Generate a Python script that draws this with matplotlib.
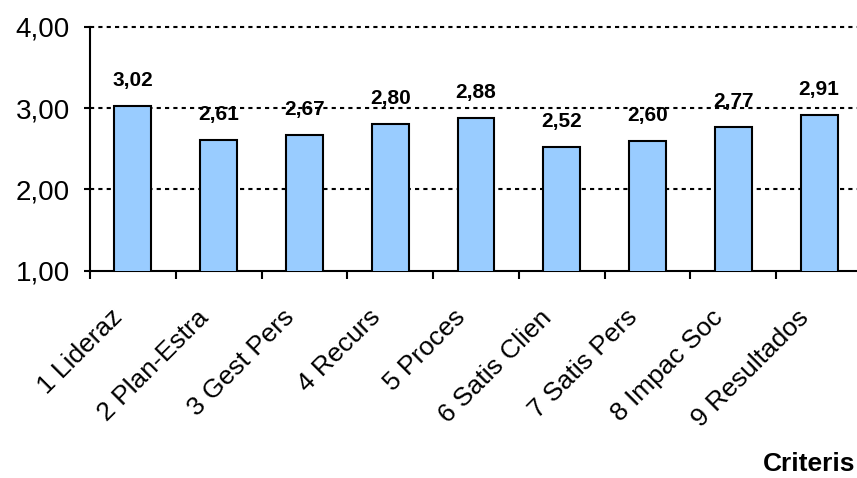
import matplotlib
matplotlib.use("Agg")
import matplotlib.pyplot as plt
import matplotlib.transforms as mtransforms
import numpy as np

categories = ["1 Lideraz", "2 Plan-Estra", "3 Gest Pers", "4 Recurs", "5 Proces",
              "6 Satis Clien", "7 Satis Pers", "8 Impac Soc", "9 Resultados"]
values = [3.02, 2.61, 2.67, 2.80, 2.88, 2.52, 2.60, 2.77, 2.91]
yticks = [1.0, 2.0, 3.0, 4.0]
xlabel = "Criteris"

plt.rcParams['font.family'] = ['Liberation Sans', 'DejaVu Sans']

fig = plt.figure(figsize=(8.57, 4.78), dpi=100)
W, H = 857, 478
left, right, top, bottom = 90, 862, 26.7, 270.7
ax = fig.add_axes([left / W, 1 - bottom / H, (right - left) / W, (bottom - top) / H])

x = np.arange(len(categories))
ax.bar(x, values, width=0.43, color="#99CCFF", edgecolor="black", linewidth=1.5, zorder=3, bottom=0)
ax.set_ylim(1, 4)
ax.set_xlim(-0.5, len(categories) - 0.5)

for yv in yticks[1:]:
    ax.axhline(yv, color="black", linestyle=(0, (2, 2)), linewidth=1.5, zorder=1, clip_on=False)

for xi, v in zip(x, values):
    ax.annotate(f"{v:.2f}".replace(".", ","), (xi, v), xytext=(0, 14.4), textcoords="offset points",
                ha="center", va="baseline", fontsize=15, fontweight="bold", zorder=4)

ax.set_yticks(yticks)
ax.set_yticklabels([f"{v:.2f}".replace(".", ",") for v in yticks], fontsize=20)
ax.set_xticks(np.arange(len(categories) + 1) - 0.5)
ax.set_xticklabels([])
ax.tick_params(axis="x", length=6, width=1.5, direction="out")
ax.tick_params(axis="y", length=4.5, width=1.5, direction="out", pad=10)

# category labels, rotated 45 degrees below the axis
blend = mtransforms.blended_transform_factory(ax.transData, ax.transAxes)
off = mtransforms.ScaledTranslation(-9 / 100, -48 / 100, fig.dpi_scale_trans)
for xi, lab in zip(x, categories):
    ax.text(xi, 0, lab, transform=blend + off, rotation=45, rotation_mode="anchor",
            ha="right", va="baseline", fontsize=19, clip_on=False)

for s in ["top", "right"]:
    ax.spines[s].set_visible(False)
for s in ["left", "bottom"]:
    ax.spines[s].set_linewidth(1.5)

fig.text(855 / W, 1 - 471 / H, xlabel, ha="right", va="baseline", fontsize=19, fontweight="bold")

fig.savefig("out.png", dpi=100)
